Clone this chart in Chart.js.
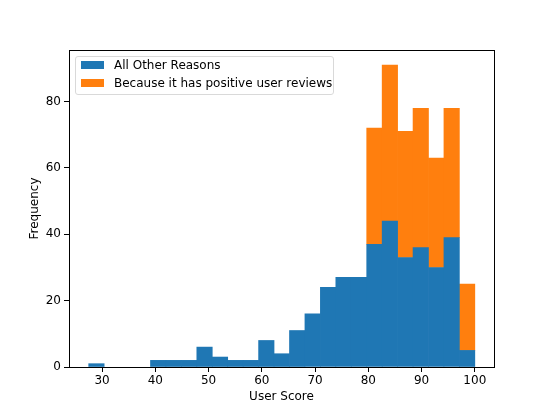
<!DOCTYPE html>
<html>
<head>
<meta charset="utf-8">
<script src="https://cdn.jsdelivr.net/npm/chart.js@4"></script>
<style>
  html, body { margin: 0; padding: 0; background: #fff; }
  #wrap { position: relative; width: 550px; height: 412px; }
  #legend {
    position: absolute; left: 75px; top: 56px; width: 257px; height: 37px;
    border: 1px solid #d9d9d9; border-radius: 3px; background: rgba(255,255,255,0.8);
    font-family: "DejaVu Sans", sans-serif; font-size: 12px; color: #000;
  }
  .item { position: absolute; left: 5px; height: 14px; line-height: 14px; white-space: nowrap; }
  .sw { position: absolute; left: 0; top: 3px; width: 23px; height: 8px; }
  .lbl { position: absolute; left: 33px; top: 0; }
</style>
</head>
<body>
<div id="wrap">
  <canvas id="c" width="550" height="412"></canvas>
  <div id="legend">
    <div class="item" style="top:1px"><span class="sw" style="background:#1f77b4"></span><span class="lbl">All Other Reasons</span></div>
    <div class="item" style="top:19px"><span class="sw" style="background:#ff7f0e"></span><span class="lbl">Because it has positive user reviews</span></div>
  </div>
</div>
<script>
// bin edges of the histogram (25 bins)
const BIN_EDGES = [27.5, 30.4, 33.3, 36.2, 39.1, 42.0, 44.9, 47.8, 50.7, 53.6, 56.5, 59.4, 62.3,
                   65.2, 68.1, 71.0, 73.9, 76.8, 79.7, 82.6, 85.5, 88.4, 91.3, 94.2, 97.1, 100.0];

const OTHER_REASONS    = [1, 0, 0, 0, 2, 2, 2, 6, 3, 2, 2, 8, 4, 11, 16, 24, 27, 27, 37, 44, 33, 36, 30, 39, 5];
const POSITIVE_REVIEWS = [0, 0, 0, 0, 0, 0, 0, 0, 0, 0, 0, 0, 0, 0, 0, 0, 0, 0, 35, 47, 38, 42, 33, 39, 20];

const X_TICKS = [30, 40, 50, 60, 70, 80, 90, 100];
const Y_TICKS = [0, 20, 40, 60, 80];

const centers = BIN_EDGES.slice(0, -1).map((e, i) => (e + BIN_EDGES[i + 1]) / 2);
// empty bins are left out so nothing is drawn for them
const toPoints = (vals) => vals.map((v, i) => ({ x: centers[i], y: v === 0 ? null : v }));

const FONT = { family: 'DejaVu Sans', size: 12 };

const frame = {
  id: 'frame',
  afterDraw(chart) {
    const { ctx, chartArea: a } = chart;
    ctx.save();
    ctx.strokeStyle = '#000';
    ctx.lineWidth = 1;
    ctx.strokeRect(Math.round(a.left) + 0.5, Math.round(a.top) + 0.5,
                   Math.round(a.right - a.left), Math.round(a.bottom - a.top));
    ctx.restore();
  }
};

new Chart(document.getElementById('c'), {
  type: 'bar',
  data: {
    datasets: [
      { label: 'All Other Reasons', data: toPoints(OTHER_REASONS),
        backgroundColor: '#1f77b4', borderColor: '#1f77b4', borderWidth: 0 },
      { label: 'Because it has positive user reviews', data: toPoints(POSITIVE_REVIEWS),
        backgroundColor: '#ff7f0e', borderColor: '#ff7f0e', borderWidth: 0 }
    ]
  },
  options: {
    responsive: false,
    animation: false,
    barPercentage: 1.0,
    categoryPercentage: 1.0,
    layout: { padding: { top: 50, right: 56, left: 28, bottom: 0 } },
    plugins: { legend: { display: false }, tooltip: { enabled: false } },
    scales: {
      x: {
        type: 'linear', stacked: true, min: 23.8, max: 103.6, offset: false,
        afterBuildTicks: (s) => { s.ticks = X_TICKS.map(v => ({ value: v })); },
        afterFit: (s) => { s.height = 45; },
        grid: { offset: false, drawOnChartArea: false, drawTicks: true, tickLength: 5, color: '#000' },
        border: { color: '#000' },
        ticks: { color: '#000', font: FONT, padding: 2, maxRotation: 0 },
        title: { display: true, text: 'User Score', color: '#000', font: FONT, padding: { top: 0, bottom: 8 } }
      },
      y: {
        stacked: true, min: 0, max: 95.55,
        afterBuildTicks: (s) => { s.ticks = Y_TICKS.map(v => ({ value: v })); },
        afterFit: (s) => { s.width = 41; },
        grid: { drawOnChartArea: false, drawTicks: true, tickLength: 5, color: '#000' },
        border: { color: '#000' },
        ticks: { color: '#000', font: FONT, padding: 3 },
        title: { display: true, text: 'Frequency', color: '#000', font: FONT, padding: { top: 0, bottom: 0 } }
      }
    }
  },
  plugins: [frame]
});
</script>
</body>
</html>
